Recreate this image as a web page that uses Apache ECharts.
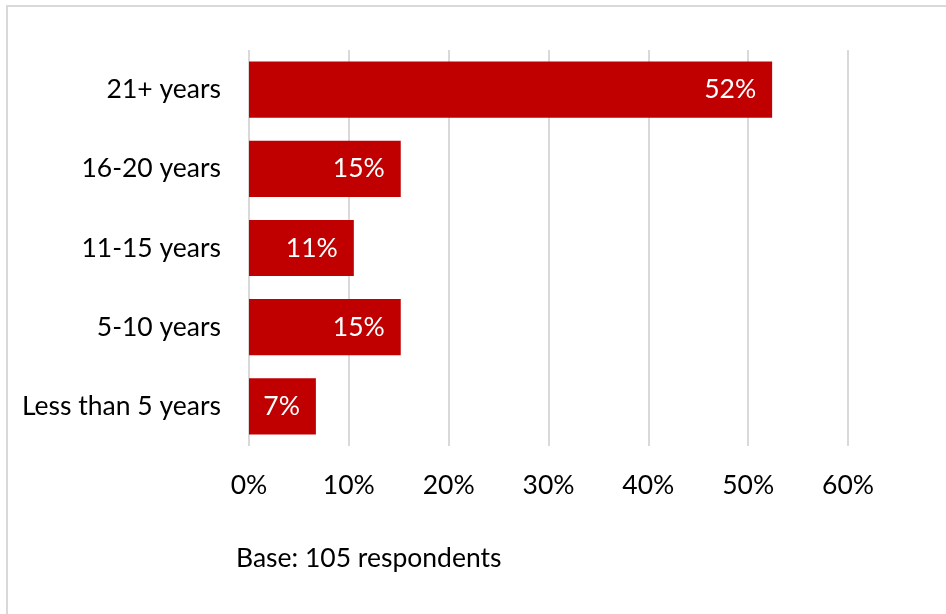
<!DOCTYPE html>
<html><head><meta charset="utf-8">
<script src="https://cdn.jsdelivr.net/npm/echarts@6/dist/echarts.min.js"></script>
<style>html,body{margin:0;padding:0;background:#fff}#c{width:946px;height:614px}</style>
</head><body><div id="c"></div>
<script>
const categories = ['Less than 5 years', '5-10 years', '11-15 years', '16-20 years', '21+ years'];
const values = [6.7, 15.2, 10.5, 15.2, 52.4];
const labels = ['7%', '15%', '11%', '15%', '52%'];
const baseNote = 'Base: 105 respondents';
const FONT = 'Lato';
const FS = 26.5;
const chart = echarts.init(document.getElementById('c'), null, {renderer: 'canvas'});
chart.setOption({
  animation: false,
  textStyle: {fontFamily: FONT},
  graphic: [
    {type: 'rect', shape: {x: 7, y: 6, width: 1000, height: 700}, style: {fill: 'none', stroke: '#d9d9d9', lineWidth: 2}, z: -1},
    {type: 'text', left: 236, top: 545, style: {text: baseNote, font: FS + 'px ' + FONT, fill: '#000'}}
  ],
  grid: {left: 249, right: 98, top: 50, bottom: 168, containLabel: false},
  xAxis: {
    type: 'value', min: 0, max: 60, interval: 10,
    axisLine: {show: false}, axisTick: {show: false},
    splitLine: {lineStyle: {color: '#d9d9d9', width: 2}},
    axisLabel: {formatter: '{value}%', color: '#000', fontSize: FS, fontFamily: FONT, margin: 26}
  },
  yAxis: {
    type: 'category', data: categories,
    axisLine: {show: false}, axisTick: {show: false},
    axisLabel: {color: '#000', fontSize: FS, fontFamily: FONT, margin: 28}
  },
  series: [{
    type: 'bar', data: values, barCategoryGap: '29%',
    itemStyle: {color: '#c00000'},
    label: {show: true, position: 'insideRight', distance: 16, color: '#fff', fontSize: FS, fontFamily: FONT,
      formatter: p => labels[p.dataIndex]}
  }]
});
</script></body></html>
